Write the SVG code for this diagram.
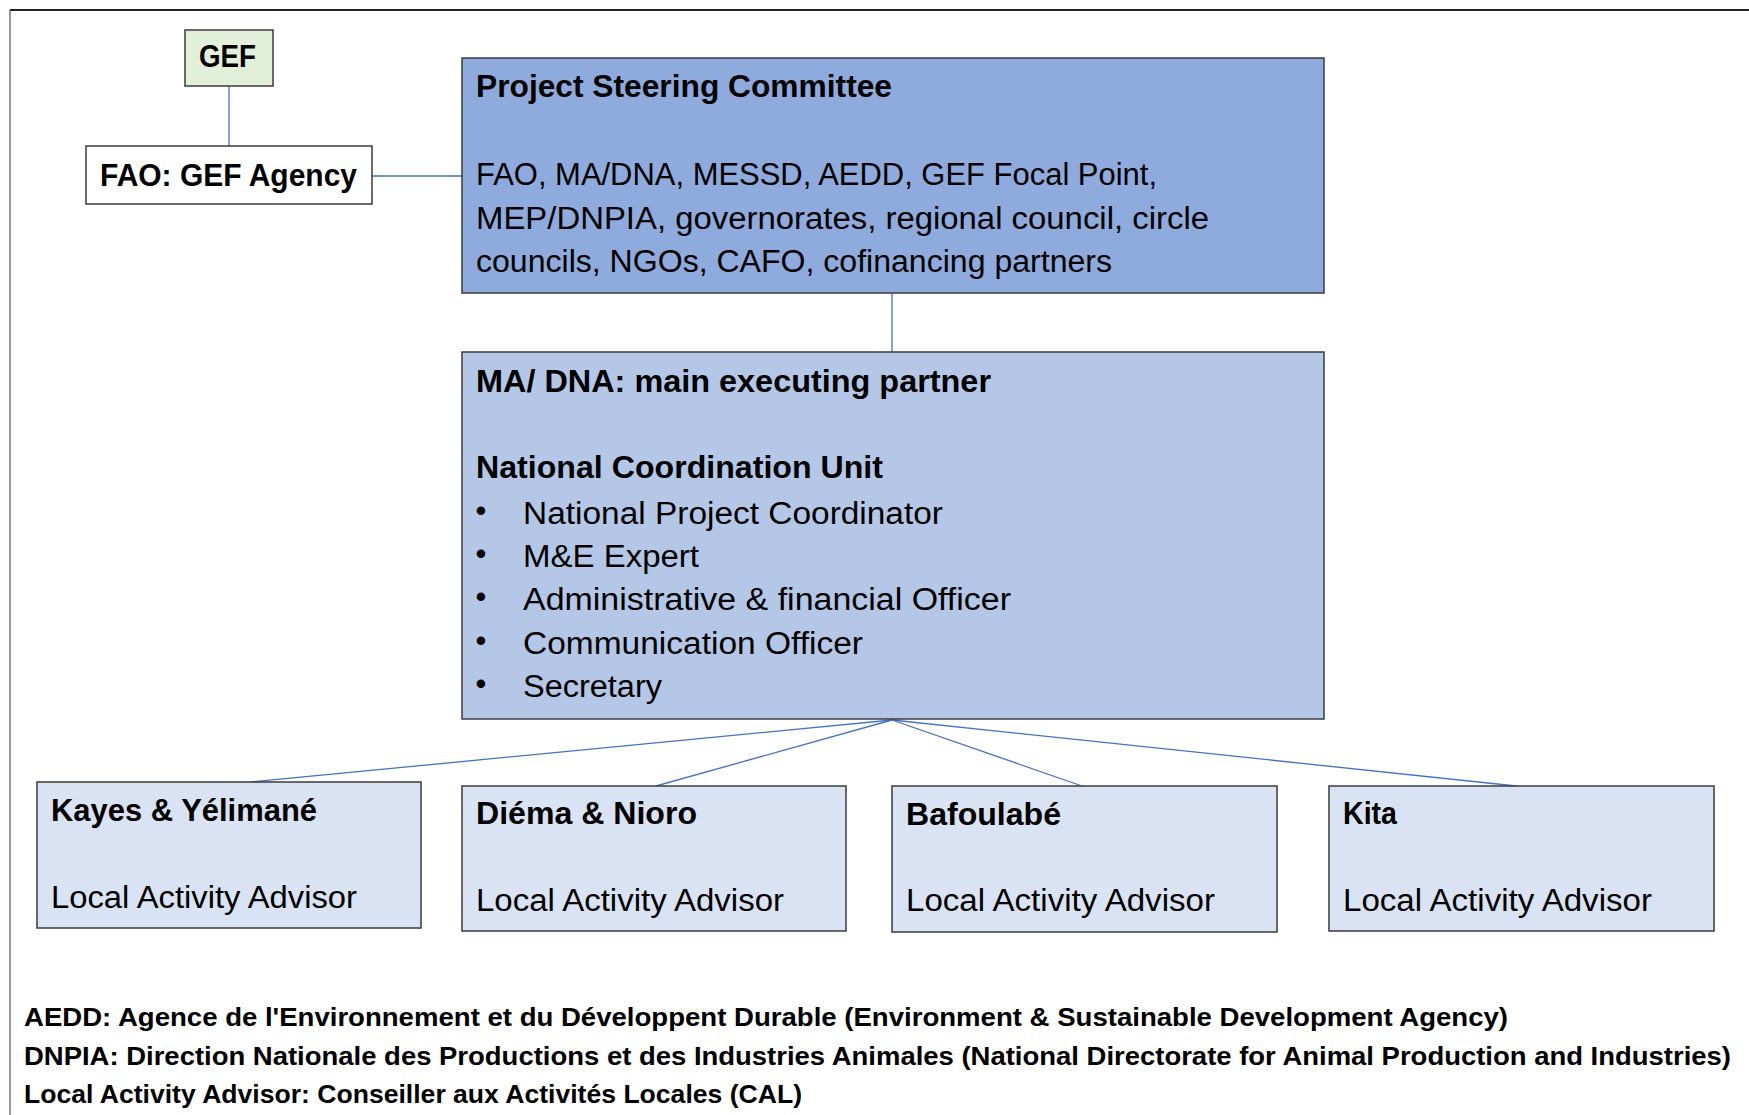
<svg xmlns="http://www.w3.org/2000/svg" width="1749" height="1115" viewBox="0 0 1749 1115">
<style>
.box{stroke:#3b3b3b;stroke-width:1.5}
.psc{fill:#8faadc}
.ma{fill:#b4c7e7}
.loc{fill:#dae3f3}
.gef{fill:#e2f0d9}
.wht{fill:#ffffff}
.conn{stroke:#4472c4;stroke-width:1.3;fill:none}
text{font-family:"Liberation Sans",Arial,sans-serif;fill:#000}
.b{font-weight:bold;font-size:31px}
.r{font-size:31px}
.f{font-weight:bold;font-size:26px}
</style>
<rect x="0" y="0" width="1749" height="1115" fill="#ffffff"/>
<g id="frame">
<line x1="10" y1="10" x2="1749" y2="10" stroke="#222" stroke-width="1.8"/>
<line x1="10" y1="10" x2="10" y2="1115" stroke="#666" stroke-width="1.3"/>
</g>
<g id="connectors">
<line class="conn" x1="229" y1="86" x2="229" y2="146"/>
<line class="conn" x1="372" y1="176" x2="462" y2="176"/>
<line class="conn" x1="892" y1="293" x2="892" y2="352"/>
<line class="conn" x1="892" y1="720" x2="251" y2="782"/>
<line class="conn" x1="892" y1="720" x2="656" y2="786"/>
<line class="conn" x1="892" y1="720" x2="1082" y2="786"/>
<line class="conn" x1="892" y1="720" x2="1516" y2="786"/>
</g>
<g id="gef">
<rect class="box gef" x="185" y="30" width="88" height="56"/>
<text class="b" x="199" y="67" textLength="57" lengthAdjust="spacingAndGlyphs">GEF</text>
</g>
<g id="fao">
<rect class="box wht" x="86" y="146" width="286" height="58"/>
<text class="b" x="100" y="186" textLength="257" lengthAdjust="spacingAndGlyphs">FAO: GEF Agency</text>
</g>
<g id="psc">
<rect class="box psc" x="462" y="58" width="862" height="235"/>
<text class="b" x="476" y="97" textLength="416" lengthAdjust="spacingAndGlyphs">Project Steering Committee</text>
<text class="r" x="476" y="185" textLength="681" lengthAdjust="spacingAndGlyphs">FAO, MA/DNA, MESSD, AEDD, GEF Focal Point,</text>
<text class="r" x="476" y="229" textLength="733" lengthAdjust="spacingAndGlyphs">MEP/DNPIA, governorates, regional council, circle</text>
<text class="r" x="476" y="272" textLength="636" lengthAdjust="spacingAndGlyphs">councils, NGOs, CAFO, cofinancing partners</text>
</g>
<g id="ma">
<rect class="box ma" x="462" y="352" width="862" height="367"/>
<text class="b" x="476" y="392" textLength="515" lengthAdjust="spacingAndGlyphs">MA/ DNA: main executing partner</text>
<text class="b" x="476" y="478" textLength="407" lengthAdjust="spacingAndGlyphs">National Coordination Unit</text>
<text class="r" x="481" y="521" text-anchor="middle">•</text>
<text class="r" x="523" y="524" textLength="420" lengthAdjust="spacingAndGlyphs">National Project Coordinator</text>
<text class="r" x="481" y="564" text-anchor="middle">•</text>
<text class="r" x="523" y="567" textLength="176" lengthAdjust="spacingAndGlyphs">M&amp;E Expert</text>
<text class="r" x="481" y="607" text-anchor="middle">•</text>
<text class="r" x="523" y="610" textLength="488" lengthAdjust="spacingAndGlyphs">Administrative &amp; financial Officer</text>
<text class="r" x="481" y="651" text-anchor="middle">•</text>
<text class="r" x="523" y="654" textLength="340" lengthAdjust="spacingAndGlyphs">Communication Officer</text>
<text class="r" x="481" y="694" text-anchor="middle">•</text>
<text class="r" x="523" y="697" textLength="139" lengthAdjust="spacingAndGlyphs">Secretary</text>
</g>
<g id="kayes">
<rect class="box loc" x="37" y="782" width="384" height="146"/>
<text class="b" x="51" y="821" textLength="266" lengthAdjust="spacingAndGlyphs">Kayes &amp; Yélimané</text>
<text class="r" x="51" y="908" textLength="306" lengthAdjust="spacingAndGlyphs">Local Activity Advisor</text>
</g>
<g id="diema">
<rect class="box loc" x="462" y="786" width="384" height="145"/>
<text class="b" x="476" y="824" textLength="221" lengthAdjust="spacingAndGlyphs">Diéma &amp; Nioro</text>
<text class="r" x="476" y="911" textLength="308" lengthAdjust="spacingAndGlyphs">Local Activity Advisor</text>
</g>
<g id="bafoulabe">
<rect class="box loc" x="892" y="786" width="385" height="146"/>
<text class="b" x="906" y="825" textLength="155" lengthAdjust="spacingAndGlyphs">Bafoulabé</text>
<text class="r" x="906" y="911" textLength="309" lengthAdjust="spacingAndGlyphs">Local Activity Advisor</text>
</g>
<g id="kita">
<rect class="box loc" x="1329" y="786" width="385" height="145"/>
<text class="b" x="1343" y="824" textLength="54" lengthAdjust="spacingAndGlyphs">Kita</text>
<text class="r" x="1343" y="911" textLength="309" lengthAdjust="spacingAndGlyphs">Local Activity Advisor</text>
</g>
<g id="footer">
<text class="f" x="24" y="1026" textLength="1484" lengthAdjust="spacingAndGlyphs">AEDD: Agence de l'Environnement et du Développent Durable (Environment &amp; Sustainable Development  Agency)</text>
<text class="f" x="24" y="1065" textLength="1707" lengthAdjust="spacingAndGlyphs">DNPIA: Direction Nationale des Productions et des Industries Animales (National Directorate for Animal Production and Industries)</text>
<text class="f" x="24" y="1103" textLength="778" lengthAdjust="spacingAndGlyphs">Local Activity Advisor: Conseiller aux Activités Locales (CAL)</text>
</g>
</svg>
